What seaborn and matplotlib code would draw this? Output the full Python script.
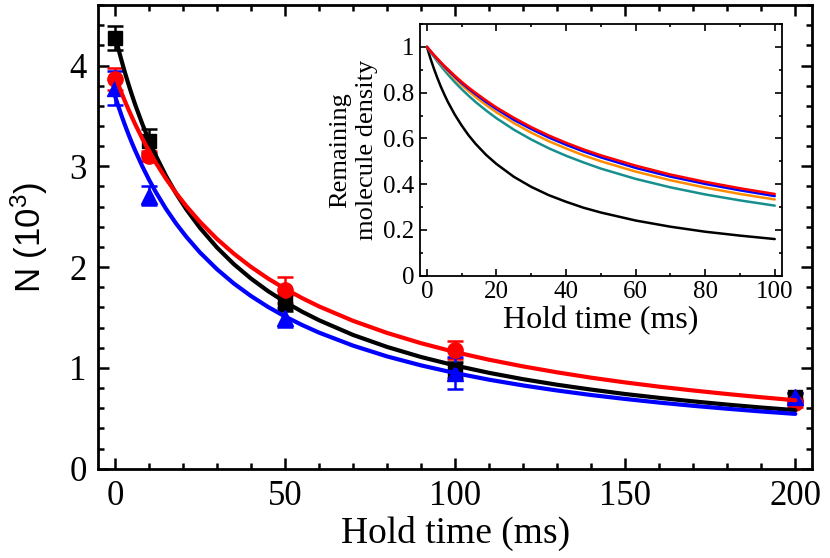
import numpy as np
import pandas as pd
import seaborn as sns
import matplotlib
matplotlib.use('Agg')
import matplotlib.pyplot as plt
from matplotlib.ticker import MultipleLocator, FormatStrFormatter

sns.set_theme(style='ticks')
plt.rcParams['font.family'] = ['Liberation Serif', 'DejaVu Serif']
plt.rcParams['mathtext.fontset'] = 'custom'
plt.rcParams['mathtext.rm'] = 'Liberation Sans'
plt.rcParams['mathtext.default'] = 'rm'

# measured points (hold time in ms, N in 10^3)
hold_pts = [0, 10, 50, 100, 200]
n_black = [4.27, 3.25, 1.64, 0.98, 0.71]
err_black = [0.12, 0.12, 0.08, 0.08, 0.04]
n_red = [3.87, 3.10, 1.77, 1.18, 0.65]
err_red = [0.11, 0.05, 0.13, 0.09, 0.04]
n_blue = [3.78, 2.71, 1.50, 0.95, 0.71]
err_blue = [0.17, 0.09, 0.09, 0.16, 0.04]

# fitted curves
t_fit = [0, 1, 2, 3, 4, 5, 6, 8, 10, 12, 15, 18, 21, 25, 30, 35, 40, 45, 50, 55, 60,
         70, 80, 90, 100, 110, 120, 130, 140, 150, 160, 170, 180, 190, 200]
fit_black = [4.300, 4.167, 4.041, 3.923, 3.812, 3.707, 3.607, 3.424, 3.258, 3.107, 2.905,
             2.728, 2.572, 2.389, 2.194, 2.028, 1.886, 1.762, 1.654, 1.558, 1.473,
             1.327, 1.208, 1.108, 1.024, 0.951, 0.888, 0.833, 0.785, 0.741, 0.703,
             0.668, 0.636, 0.607, 0.581]
fit_red = [3.900, 3.810, 3.723, 3.641, 3.562, 3.487, 3.414, 3.278, 3.153, 3.036, 2.877,
           2.734, 2.604, 2.449, 2.279, 2.132, 2.002, 1.887, 1.785, 1.693, 1.610,
           1.467, 1.347, 1.245, 1.157, 1.081, 1.015, 0.956, 0.903, 0.856, 0.814,
           0.776, 0.741, 0.709, 0.679]
fit_blue = [3.700, 3.596, 3.497, 3.404, 3.315, 3.231, 3.152, 3.003, 2.868, 2.745, 2.578,
            2.431, 2.300, 2.145, 1.979, 1.836, 1.713, 1.605, 1.510, 1.426, 1.350,
            1.221, 1.114, 1.025, 0.949, 0.883, 0.826, 0.776, 0.731, 0.692, 0.656,
            0.624, 0.595, 0.568, 0.544]

# inset: remaining molecule density
t_in = [0, 1, 2, 3, 4, 5, 6, 8, 10, 12, 14, 17, 20, 25, 30, 35, 40, 45, 50, 60, 70, 80, 90, 100]
dens_black = [1, 0.950, 0.905, 0.864, 0.826, 0.792, 0.760, 0.704, 0.656, 0.613, 0.576,
              0.528, 0.488, 0.432, 0.388, 0.352, 0.323, 0.297, 0.276, 0.241, 0.214,
              0.192, 0.175, 0.160]
dens_teal = [1, 0.978, 0.957, 0.936, 0.917, 0.898, 0.880, 0.846, 0.815, 0.786, 0.759,
             0.722, 0.688, 0.638, 0.595, 0.557, 0.524, 0.495, 0.468, 0.423, 0.386,
             0.355, 0.329, 0.306]
dens_orange = [1, 0.980, 0.962, 0.943, 0.926, 0.909, 0.893, 0.862, 0.833, 0.806, 0.781,
               0.746, 0.714, 0.667, 0.625, 0.588, 0.556, 0.526, 0.500, 0.455, 0.417,
               0.385, 0.357, 0.333]
dens_blue = [1, 0.982, 0.964, 0.947, 0.930, 0.914, 0.899, 0.870, 0.842, 0.817, 0.793,
             0.759, 0.728, 0.681, 0.641, 0.604, 0.572, 0.543, 0.517, 0.471, 0.433,
             0.401, 0.373, 0.348]
dens_red = [1, 0.982, 0.965, 0.949, 0.933, 0.917, 0.903, 0.874, 0.847, 0.822, 0.799,
            0.766, 0.735, 0.690, 0.649, 0.613, 0.581, 0.552, 0.526, 0.481, 0.442,
            0.410, 0.382, 0.357]

fig = plt.figure(figsize=(8.3, 5.58), dpi=100)
ax = fig.add_axes([0.118, 0.160, 0.8607, 0.831])

series = [('black', 's', n_black, err_black, fit_black, 10),
          ('red', 'o', n_red, err_red, fit_red, 11),
          ('blue', '^', n_blue, err_blue, fit_blue, 11)]
for col, mk, n, err, fit, ms in series:
    ax.errorbar(hold_pts, n, yerr=err, fmt=mk, color=col, ms=ms, mec=col,
                elinewidth=1.8, capsize=6, capthick=1.8, zorder=3)
for col, mk, n, err, fit, ms in series:
    sns.lineplot(x=t_fit, y=fit, color=col, lw=3, ax=ax, zorder=4)

ax.set_xlim(-5, 205)
ax.set_ylim(0, 4.6)
ax.xaxis.set_major_locator(MultipleLocator(50))
ax.xaxis.set_minor_locator(MultipleLocator(10))
ax.yaxis.set_major_locator(MultipleLocator(1))
ax.yaxis.set_minor_locator(MultipleLocator(0.2))
ax.tick_params(which='both', direction='in', top=True, right=True, width=1.8,
               labelsize=25, pad=8, color='black', labelcolor='black')
ax.tick_params(which='major', length=8)
ax.tick_params(which='minor', length=4)
for s in ax.spines.values():
    s.set_linewidth(2)
    s.set_color('black')
ax.set_xlabel('Hold time (ms)', fontsize=27, labelpad=2, color='black')
ax.set_ylabel(r'N (10$^{3}$)', fontsize=25, family='Liberation Sans', labelpad=14, color='black')

# inset
axi = fig.add_axes([0.506, 0.506, 0.4358, 0.451])
inset = [('black', dens_black), ('#178f8f', dens_teal), ('#ff8c00', dens_orange),
         ('blue', dens_blue), ('red', dens_red)]
for col, d in inset:
    sns.lineplot(x=t_in, y=d, color=col, lw=1.8, ax=axi)
axi.set_xlim(-2, 102)
axi.set_ylim(0, 1.1)
axi.xaxis.set_major_locator(MultipleLocator(20))
axi.xaxis.set_minor_locator(MultipleLocator(10))
axi.yaxis.set_major_locator(MultipleLocator(0.2))
axi.yaxis.set_minor_locator(MultipleLocator(0.1))
axi.yaxis.set_major_formatter(FormatStrFormatter('%g'))
axi.tick_params(which='both', direction='in', top=True, right=True, width=1.2,
                labelsize=18, pad=4, color='black', labelcolor='black')
axi.tick_params(which='major', length=5)
axi.tick_params(which='minor', length=2.5)
for s in axi.spines.values():
    s.set_linewidth(1.3)
    s.set_color('black')
axi.set_xlabel('Hold time (ms)', fontsize=23, labelpad=2, color='black')
axi.set_ylabel('Remaining\nmolecule density', fontsize=19, labelpad=4,
               linespacing=1.25, color='black')

fig.savefig('out.png', dpi=100)
